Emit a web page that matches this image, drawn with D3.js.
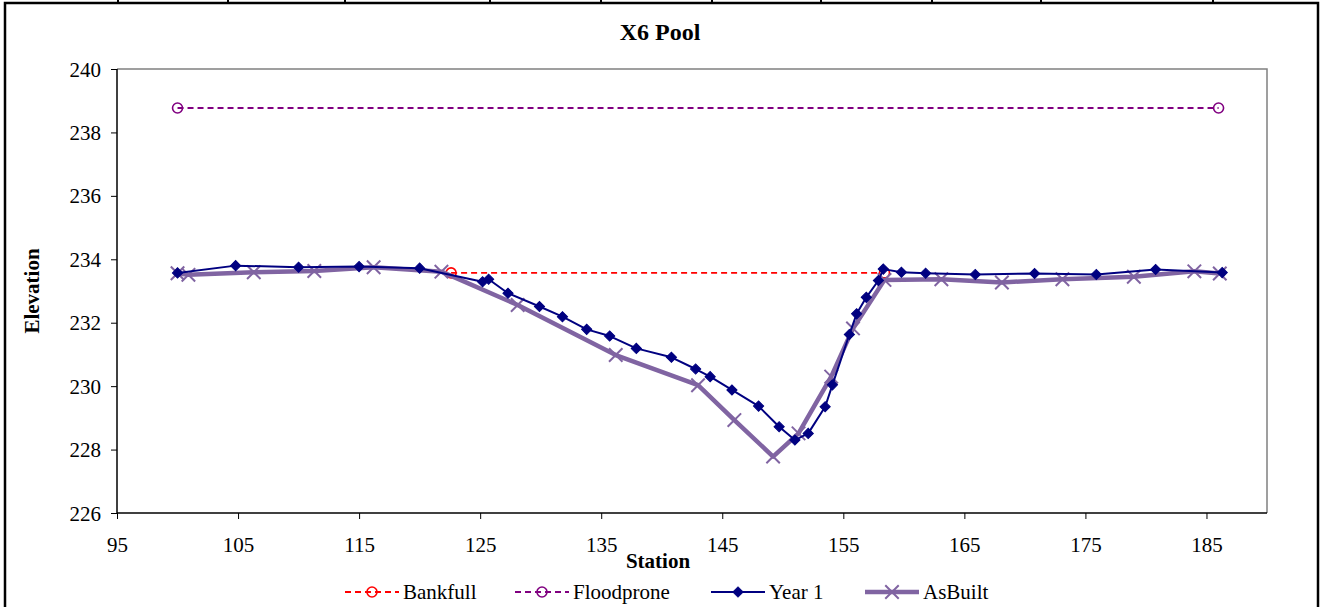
<!DOCTYPE html>
<html>
<head>
<meta charset="utf-8">
<script src="https://cdn.jsdelivr.net/npm/d3@7"></script>
<style>
  html, body { margin: 0; padding: 0; background: #fff; }
  svg { display: block; font-family: "Liberation Serif", "Times New Roman", serif; }
</style>
</head>
<body>
<svg id="chart" width="1323" height="607"></svg>
<script>
// Cross-section X6 Pool: station vs elevation
const chartTitle = "X6 Pool";
const xTicks = [95, 105, 115, 125, 135, 145, 155, 165, 175, 185];
const yTicks = [226, 228, 230, 232, 234, 236, 238, 240];

const bankfullStation = [122.6, 158.4];
const bankfullElev = [233.57, 233.57];

const floodproneStation = [100, 186.0];
const floodproneElev = [238.77, 238.77];

const year1Station = [100, 104.8, 110, 115, 120, 125.2, 125.7, 127.3, 129.9, 131.8, 133.8, 135.7,
  137.9, 140.8, 142.8, 144.0, 145.8, 148.0, 149.7, 151.0, 152.1, 153.5, 154.1, 155.5, 156.1,
  156.9, 157.9, 158.3, 159.8, 161.8, 165.9, 170.8, 175.9, 180.8, 186.3];
const year1Elev = [233.57, 233.80, 233.75, 233.77, 233.72, 233.29, 233.37, 232.93, 232.51, 232.19,
  231.79, 231.58, 231.19, 230.91, 230.54, 230.30, 229.88, 229.37, 228.72, 228.30, 228.51, 229.35,
  230.04, 231.63, 232.28, 232.80, 233.33, 233.69, 233.59, 233.56, 233.52, 233.55, 233.52, 233.68, 233.58];

const asBuiltStation = [100, 100.9, 106.3, 111.3, 116.2, 121.8, 128.1, 136.2, 143.0, 146.0, 149.2,
  151.3, 154.0, 155.8, 158.4, 163.1, 168.1, 173.1, 179.0, 184.0, 186.1];
const asBuiltElev = [233.56, 233.51, 233.59, 233.63, 233.75, 233.61, 232.56, 230.98, 230.03, 228.93,
  227.78, 228.51, 230.30, 231.82, 233.35, 233.37, 233.27, 233.37, 233.45, 233.62, 233.55];

const seriesNames = ["Bankfull", "Floodprone", "Year 1", "AsBuilt"];

// ---- layout ----
const svg = d3.select("#chart");
const plot = { left: 117, right: 1267, top: 69, bottom: 513 };

const x = d3.scaleLinear().domain([95, 190]).range([plot.left, plot.right]);
const y = d3.scaleLinear().domain([226, 240]).range([plot.bottom, plot.top]);

// outer frame with the table rules along the top edge
const frame = svg.append("g");
frame.append("rect")
  .attr("x", 5).attr("y", 3).attr("width", 1313).attr("height", 620)
  .attr("fill", "none").attr("stroke", "#000").attr("stroke-width", 2.5);
[118, 228, 345, 490, 601, 712, 821, 932, 1041, 1213].forEach(px => {
  frame.append("line").attr("x1", px).attr("x2", px).attr("y1", 0).attr("y2", 4)
    .attr("stroke", "#000").attr("stroke-width", 2);
});

// plot border (top/right grey)
svg.append("path")
  .attr("d", `M${plot.left},${plot.top}H${plot.right}V${plot.bottom}`)
  .attr("fill", "none").attr("stroke", "#808080").attr("stroke-width", 1.5);

// axes
const xAxis = d3.axisBottom(x).tickValues(xTicks).tickSize(6).tickPadding(18).tickFormat(d3.format("d"));
const yAxis = d3.axisLeft(y).tickValues(yTicks).tickSize(6).tickPadding(10).tickFormat(d3.format("d"));

const gx = svg.append("g").attr("transform", `translate(0,${plot.bottom})`).call(xAxis);
const gy = svg.append("g").attr("transform", `translate(${plot.left},0)`).call(yAxis);
[gx, gy].forEach(g => {
  g.select(".domain").attr("stroke", "#000").attr("stroke-width", 1.5);
  g.selectAll(".tick line").attr("stroke", "#000").attr("stroke-width", 1);
  g.selectAll(".tick text").attr("font-size", 21).attr("fill", "#000")
    .attr("font-family", "Liberation Serif, Times New Roman, serif");
});
gx.select(".domain").attr("d", `M${plot.left},0H${plot.right}`);
gy.select(".domain").attr("d", `M0,${plot.bottom}V${plot.top}`);
gy.selectAll(".tick text").attr("dy", "0.34em");

// titles
svg.append("text").attr("x", 660).attr("y", 40).attr("text-anchor", "middle")
  .attr("font-size", 24).attr("font-weight", "bold").text(chartTitle);
svg.append("text").attr("x", 658).attr("y", 568).attr("text-anchor", "middle")
  .attr("font-size", 21).attr("font-weight", "bold").text("Station");
svg.append("text").attr("transform", `translate(39,${(plot.top + plot.bottom) / 2}) rotate(-90)`)
  .attr("text-anchor", "middle").attr("font-size", 21).attr("font-weight", "bold").text("Elevation");

// ---- series ----
const line = d3.line().x(d => x(d[0])).y(d => y(d[1]));
const zip = (a, b) => a.map((v, i) => [v, b[i]]);

const bankfull = zip(bankfullStation, bankfullElev);
const floodprone = zip(floodproneStation, floodproneElev);
const year1 = zip(year1Station, year1Elev);
const asBuilt = zip(asBuiltStation, asBuiltElev);

const styles = {
  "Bankfull": { color: "#FF0000", width: 1.8, dash: "6,4", marker: "circle" },
  "Floodprone": { color: "#800080", width: 1.8, dash: "6,4", marker: "circle" },
  "Year 1": { color: "#000080", width: 2, dash: null, marker: "diamond" },
  "AsBuilt": { color: "#8064A2", width: 4.5, dash: null, marker: "cross" }
};

const diamond = d3.symbol(d3.symbolSquare, 52)();
const cross = d3.symbol(d3.symbolTimes, 120)();

function drawMarker(g, kind, color, cx, cy) {
  if (kind === "circle") {
    g.append("circle").attr("cx", cx).attr("cy", cy).attr("r", 5)
      .attr("fill", "none").attr("stroke", color).attr("stroke-width", 1.6);
  } else if (kind === "diamond") {
    g.append("path").attr("d", diamond)
      .attr("transform", `translate(${cx},${cy}) rotate(45)`)
      .attr("fill", color).attr("stroke", color).attr("stroke-width", 1);
  } else {
    g.append("path").attr("d", cross)
      .attr("transform", `translate(${cx},${cy})`)
      .attr("fill", "none").attr("stroke", color).attr("stroke-width", 2);
  }
}

function drawSeries(data, name, withMarkers) {
  const s = styles[name];
  const g = svg.append("g");
  g.append("path").datum(data).attr("d", line)
    .attr("fill", "none").attr("stroke", s.color).attr("stroke-width", s.width)
    .attr("stroke-dasharray", s.dash).attr("stroke-linejoin", "round");
  data.forEach(d => drawMarker(g, s.marker, s.color, x(d[0]), y(d[1])));
}

drawSeries(bankfull, "Bankfull");
drawSeries(floodprone, "Floodprone");
drawSeries(asBuilt, "AsBuilt");
drawSeries(year1, "Year 1");

// ---- legend ----
const legendCenters = [372, 542, 738, 892];
const legendY = 592;
seriesNames.forEach((name, i) => {
  const s = styles[name];
  const cx = legendCenters[i];
  const g = svg.append("g");
  g.append("line").attr("x1", cx - 27).attr("x2", cx + 27).attr("y1", legendY).attr("y2", legendY)
    .attr("stroke", s.color).attr("stroke-width", s.width).attr("stroke-dasharray", s.dash);
  drawMarker(g, s.marker, s.color, cx, legendY);
  g.append("text").attr("x", cx + 31).attr("y", legendY + 7)
    .attr("font-size", 21).attr("fill", "#000").text(name);
});
</script>
</body>
</html>
